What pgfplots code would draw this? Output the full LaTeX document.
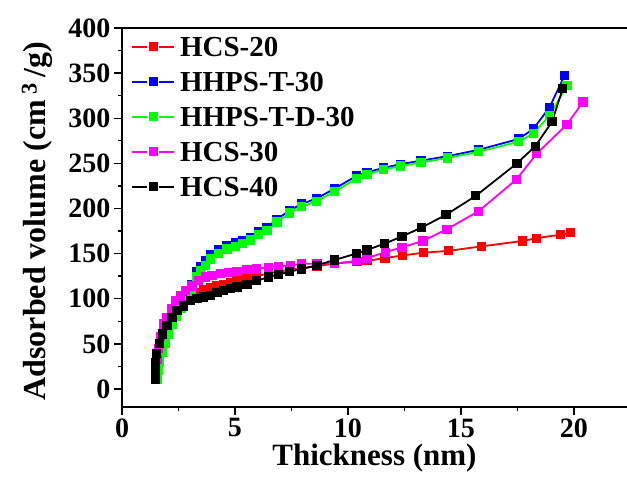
\documentclass[border=0pt]{standalone}
\usepackage{pgfplots}
\pgfplotsset{compat=1.18}
\usepackage{fontspec}
\setmainfont{Liberation Serif}
\definecolor{cRed}{RGB}{255,0,0}
\definecolor{cBlue}{RGB}{0,0,255}
\definecolor{cGreen}{RGB}{0,255,0}
\definecolor{cMag}{RGB}{255,0,255}
\definecolor{cBlack}{RGB}{0,0,0}
\begin{document}
\begin{tikzpicture}
\useasboundingbox (0pt,0pt) rectangle (627pt,482pt);
\begin{axis}[
  at={(122pt,75pt)}, anchor=south west,
  scale only axis, width=505pt, height=379pt,
  xmin=0, xmax=22.35, ymin=-20, ymax=400,
  axis x line=box, axis y line=left,
  axis line style={-, line width=1.6pt},
  xtick={0,5,10,15,20}, ytick={0,50,...,400},
  minor x tick num=1, minor y tick num=1,
  xtick pos=bottom, ytick pos=left,
  tick align=outside,
  major tick length=8pt, minor tick length=4.5pt,
  every tick/.style={line width=1.4pt, black},
  /pgf/number format/assume math mode=true,
  ticklabel style={font=\fontsize{28}{28}\selectfont\bfseries},
  xlabel={Thickness (nm)},
  ylabel={Adsorbed volume (cm\,\textsuperscript{3}\,/g)},
  xlabel style={font=\fontsize{31}{31}\selectfont\bfseries, at={(axis description cs:0.5,-0.135)}, anchor=center},
  ylabel style={font=\fontsize{32}{32}\selectfont\bfseries, at={(axis description cs:-0.168,0.49)}, anchor=center, rotate=0},
  legend style={draw=none, fill=none, at={(axis description cs:0,1)}, anchor=north west, xshift=6pt, yshift=1pt,
    font=\fontsize{29}{29}\selectfont\bfseries, row sep=0pt, column sep=0pt,
    nodes={inner xsep=5pt, inner ysep=0pt, text height=27.5pt, text depth=7.5pt}},
  legend cell align=left,
  legend image code/.code={
    \draw[#1, mark=none] (0pt,0pt) -- (15pt,0pt);
    \draw[#1, mark=none] (27pt,0pt) -- (42pt,0pt);
    \draw[#1, only marks] plot coordinates {(21pt,0pt)};
  },
  every axis plot/.append style={line width=1.8pt, mark=square*, mark size=3.7pt},
]
\addplot[color=cRed, mark options={solid, fill=cRed, draw=cRed}] coordinates {
(1.47,12) (1.5,22) (1.55,32) (1.62,44) (1.72,56) (1.85,67) (2.0,76) (2.2,85) (2.43,92) (2.73,99) (3.02,104) (3.32,107) (3.61,110) (3.91,112) (4.2,114) (4.5,116) (4.79,118) (5.09,120) (5.53,123) (5.97,125) (6.49,128) (6.93,130) (7.42,132) (7.96,134) (8.63,136) (9.41,139) (10.4,141) (10.84,142) (11.64,145) (12.43,148) (13.35,151) (14.45,153) (15.9,158) (17.74,164) (18.33,167) (19.39,171) (19.84,173)
};
\addlegendentry{HCS-20}
\addplot[color=cBlue, mark options={solid, fill=cBlue, draw=cBlue}] coordinates {
(1.5,12) (1.53,22) (1.58,32) (1.65,43) (1.75,53) (1.88,63) (2.03,73) (2.2,82) (2.4,90) (2.62,98) (2.85,106) (3.06,116) (3.29,130) (3.46,136) (3.69,142) (3.91,149) (4.27,154) (4.65,159) (5.01,162) (5.35,164) (5.68,168) (6.05,174) (6.42,179) (6.86,188) (7.42,198) (7.96,205) (8.6,211) (9.41,222) (10.37,236) (10.84,240) (11.58,245) (12.31,249) (13.23,253) (14.42,258) (15.78,265) (17.55,277) (18.2,288) (18.92,312) (19.58,347)
};
\addlegendentry{HHPS-T-30}
\addplot[color=cGreen, mark options={solid, fill=cGreen, draw=cGreen}] coordinates {
(1.55,11) (1.6,21) (1.66,31) (1.77,41) (1.9,51) (2.05,61) (2.22,71) (2.42,80) (2.62,89) (2.85,98) (3.06,108) (3.29,124) (3.46,131) (3.69,137) (3.91,144) (4.27,150) (4.65,155) (5.01,158) (5.35,161) (5.68,165) (6.05,171) (6.42,176) (6.86,185) (7.42,195) (7.96,202) (8.6,208) (9.41,219) (10.37,233) (10.84,238) (11.58,243) (12.31,247) (13.23,251) (14.42,256) (15.78,263) (17.55,274) (18.2,283) (18.92,303) (19.69,336)
};
\addlegendentry{HHPS-T-D-30}
\addplot[color=cMag, mark options={solid, fill=cMag, draw=cMag}] coordinates {
(1.47,12) (1.5,22) (1.55,33) (1.62,45) (1.72,58) (1.84,72) (1.99,79) (2.21,89) (2.36,98) (2.58,103) (2.8,109) (3.1,114) (3.39,120) (3.69,124) (3.98,126) (4.35,128) (4.72,129) (5.09,130) (5.53,132) (5.97,133) (6.49,135) (6.93,136) (7.45,137) (7.96,138.5) (8.63,139) (9.41,139) (10.37,142) (10.84,145) (11.65,151.5) (12.39,157) (13.32,164) (14.38,177) (15.78,197) (17.45,232) (18.36,261) (19.69,293) (20.4,318)
};
\addlegendentry{HCS-30}
\addplot[color=cBlack, mark options={solid, fill=cBlack, draw=cBlack}] coordinates {
(1.47,11) (1.48,20) (1.49,29) (1.52,39) (1.66,50) (1.81,61) (1.99,70) (2.21,79) (2.43,87) (2.73,92) (3.02,98) (3.32,100) (3.61,102) (3.91,104) (4.2,107) (4.5,109) (4.79,111) (5.09,113) (5.53,116) (5.97,120) (6.49,124) (6.93,127) (7.42,130) (7.96,133) (8.63,137) (9.41,143) (10.37,150) (10.84,154) (11.62,161) (12.39,169) (13.27,179) (14.34,193) (15.66,214) (17.48,250) (18.29,269) (19.03,296) (19.51,333)
};
\addlegendentry{HCS-40}
\end{axis}
\end{tikzpicture}
\end{document}
